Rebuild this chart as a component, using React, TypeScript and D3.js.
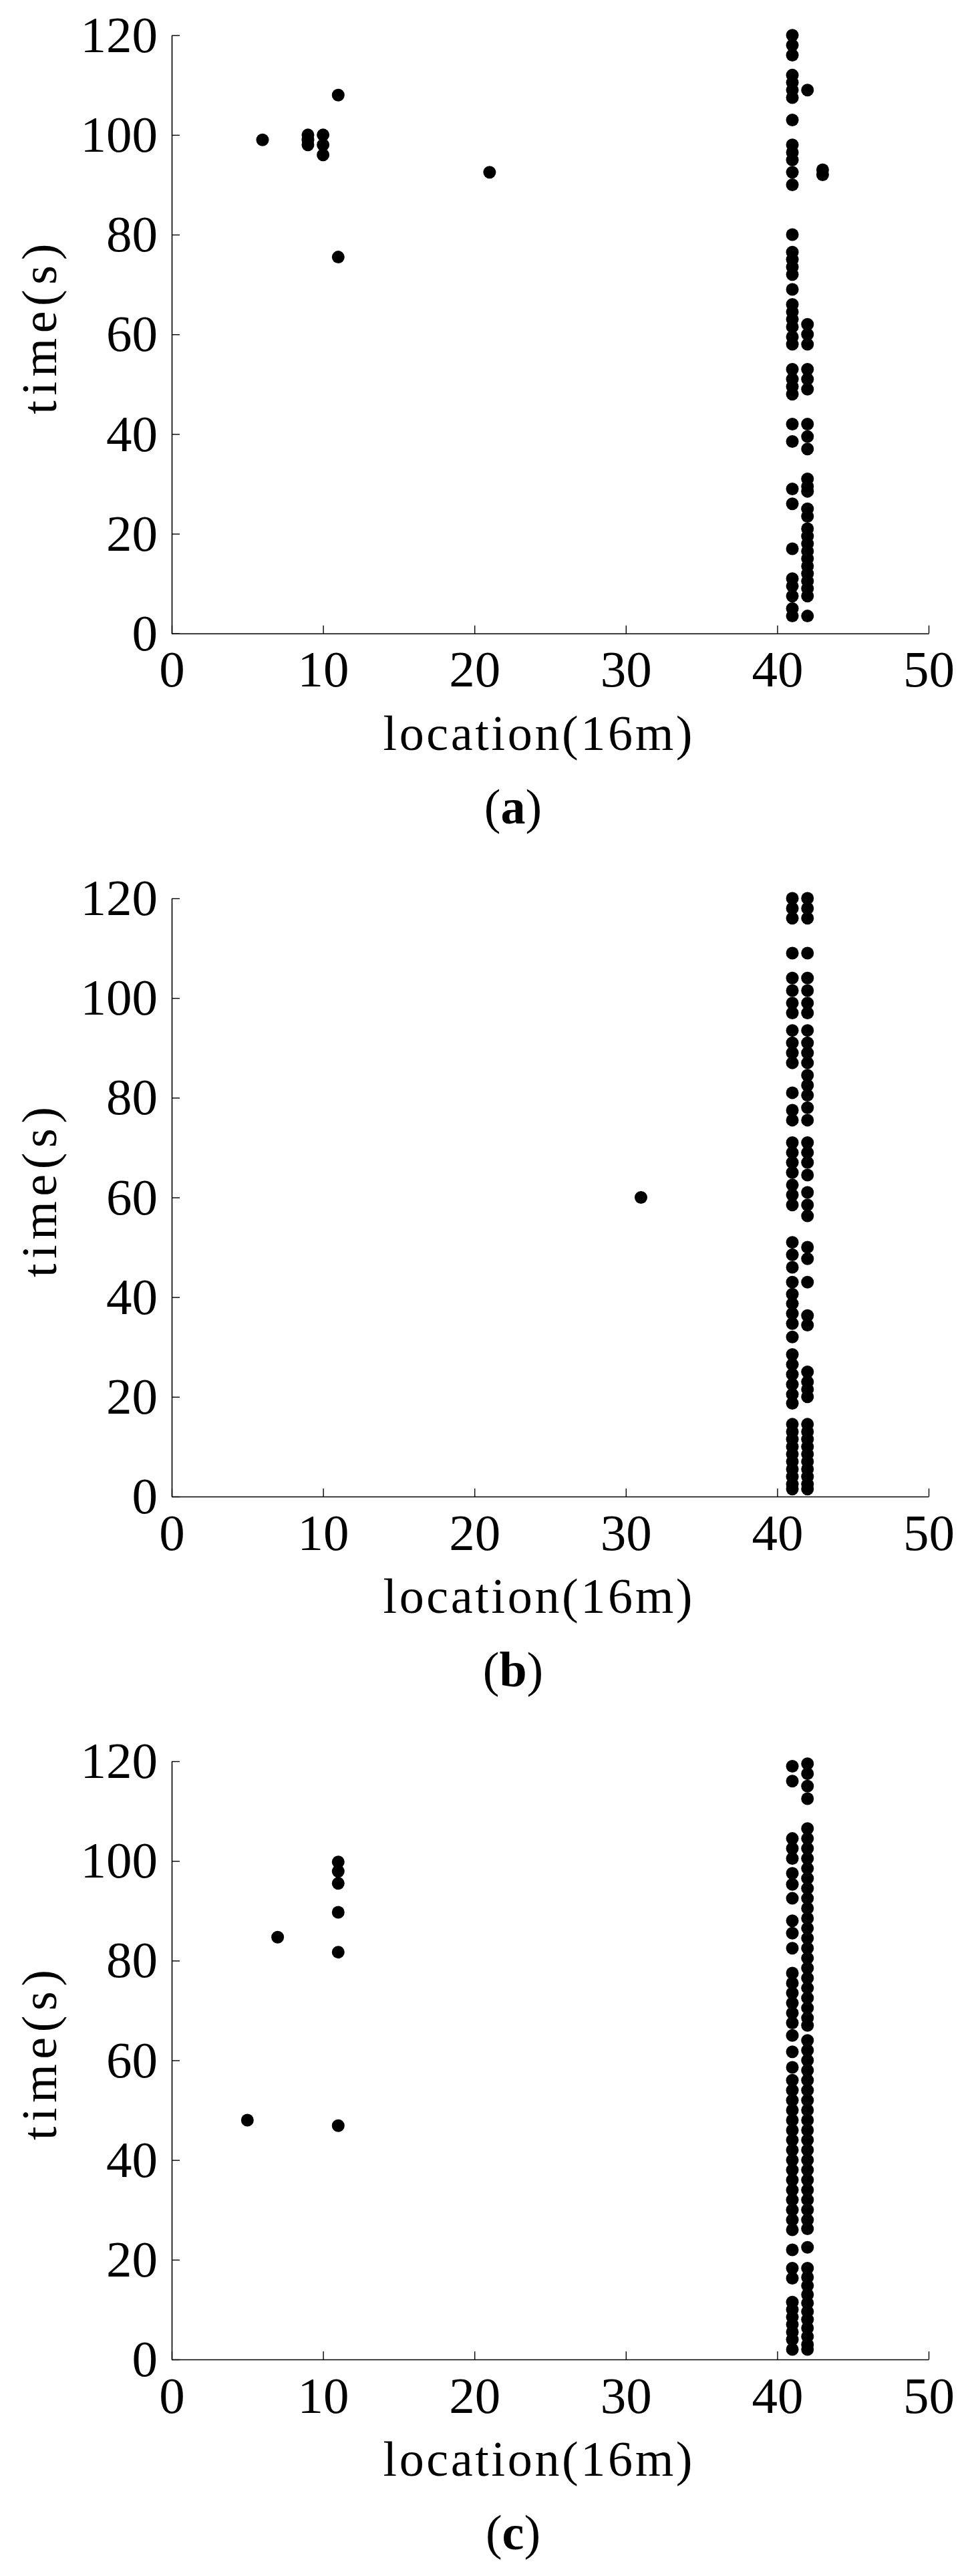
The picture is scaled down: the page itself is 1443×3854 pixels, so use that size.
import React, { useEffect, useRef } from 'react';
import * as d3 from 'd3';

// ---- tick labels / axis text ----
const xTicks = [0, 10, 20, 30, 40, 50];
const yTicks = [0, 20, 40, 60, 80, 100, 120];
const xLabel = 'location(16m)';
const yLabel = 'time(s)';
const panelLetters = ['a', 'b', 'c'];

// ---- panel (a) ----
const aOutliers: [number, number][] = [
  [6, 99], [9, 100], [9, 99], [9, 98], [10, 100], [10, 98], [10, 96],
  [11, 108], [11, 75.5], [21, 92.5], [43, 93], [43, 92],
];
const aCol41 = [120, 118, 116, 112, 110.5, 109, 107.5, 103, 98, 96.5, 95, 92.5, 90, 80, 76.5, 75, 73.5, 72, 69, 66, 64.5, 63, 61.5, 59.5, 58, 53, 51, 49.5, 48, 42, 38.5, 29, 26, 17, 11, 9.5, 7.5, 5, 3.5];
const aCol42 = [109, 62, 60, 58, 53, 51, 49, 42, 39.5, 37, 31, 29.5, 28.5, 25, 23.5, 21, 19.5, 18, 16.5, 15, 13.5, 12, 10.5, 9, 7.5, 3.5];

// ---- panel (b) ----
const bOutliers: [number, number][] = [[31, 60]];
const bCol41 = [120, 118, 116, 109, 104, 101.5, 99, 97, 93.5, 91, 89, 87, 81, 77.5, 75.5, 71, 69, 67, 65, 62.5, 60.5, 58.5, 51, 48.5, 46, 43, 40.6, 38.7, 36.7, 34.7, 32, 28.5, 26.5, 24.5, 22.5, 20.5, 18.7, 14.5, 13, 11.5, 10, 8.5, 7, 5.5, 4, 2.5, 1.5];
const bCol42 = [120, 118, 116, 109, 104, 101.5, 99, 97, 93.5, 91, 89, 87, 84.5, 82.5, 80.5, 78, 75.5, 71, 69, 67, 64.5, 61, 58.5, 56.3, 50, 47.7, 43, 36.3, 34.4, 25, 23, 21.5, 20, 14.5, 13, 11.5, 10, 8.5, 7, 5.5, 4, 2.5, 1.5];

// ---- panel (c) ----
const cOutliers: [number, number][] = [
  [5, 48], [7, 84.7], [11, 99.8], [11, 97.9], [11, 95.5], [11, 89.7], [11, 81.7], [11, 46.9],
];
const cCol41 = [119, 116, 104.5, 102.5, 100.5, 97.5, 95.3, 92.5, 88, 85.5, 82.5, 77.5, 75.5, 73.5, 71.5, 69.5, 67.5, 65, 61.7, 58.6, 56, 54, 52, 50, 48, 46, 44, 42, 40, 38, 36, 34, 32, 30, 28, 26, 22, 18.3, 16.3, 11.5, 10, 8.5, 7, 5.5, 4, 2];
const cCol42 = [119.5, 117.5, 115, 112.5, 106.5, 104.5, 102.5, 100.5, 98.5, 96.5, 94.5, 92.5, 90.5, 88.5, 86.5, 84.5, 82.5, 80.5, 78.5, 76.5, 74.5, 72.5, 70.5, 68.5, 67, 64, 62, 60, 58, 56, 54, 52, 50, 48, 46, 44, 42, 40, 38, 36, 34, 32, 30, 28, 26.2, 22.5, 18.3, 16.5, 14.8, 13, 11.3, 9.6, 8, 6.3, 4.6, 3, 2];

function buildPoints(outliers: [number, number][], col41: number[], col42: number[]): [number, number][] {
  return [
    ...outliers,
    ...col41.map((v) => [41, v] as [number, number]),
    ...col42.map((v) => [42, v] as [number, number]),
  ];
}

const W = 1443;
const H = 3854;
const LEFT = 257;
const RIGHT = 1390;
const PH = 895;
const TOPS = [52.7, 1344, 2635];
const SERIF = '"Liberation Serif", "Times New Roman", serif';

export default function App() {
  const ref = useRef<SVGSVGElement>(null);

  useEffect(() => {
    const svg = d3.select(ref.current);
    svg.selectAll('*').remove();

    const panelPoints = [
      buildPoints(aOutliers, aCol41, aCol42),
      buildPoints(bOutliers, bCol41, bCol42),
      buildPoints(cOutliers, cCol41, cCol42),
    ];

    panelPoints.forEach((pts, i) => {
      const top = TOPS[i];
      const x = d3.scaleLinear().domain([0, 50]).range([LEFT, RIGHT]);
      const y = d3.scaleLinear().domain([0, 120]).range([top + PH, top]);
      const g = svg.append('g');

      g.append('g')
        .selectAll('circle')
        .data(pts)
        .join('circle')
        .attr('cx', (d) => x(d[0]))
        .attr('cy', (d) => y(d[1]))
        .attr('r', 9.5)
        .attr('fill', '#000');

      const xa = g
        .append('g')
        .attr('transform', `translate(0,${y(0)})`)
        .call(
          d3.axisBottom(x).tickValues(xTicks).tickSizeInner(-12).tickSizeOuter(0).tickPadding(25).tickFormat(d3.format('d'))
        );
      const ya = g
        .append('g')
        .attr('transform', `translate(${x(0)},0)`)
        .call(
          d3.axisLeft(y).tickValues(yTicks).tickSizeInner(-12).tickSizeOuter(0).tickPadding(21).tickFormat(d3.format('d'))
        );
      [xa, ya].forEach((a) => {
        a.attr('font-family', SERIF).attr('font-size', 77);
        a.selectAll('path').attr('stroke', '#000').attr('stroke-width', 1.6);
        a.selectAll('line').attr('stroke', '#000').attr('stroke-width', 1.4);
        a.selectAll('text').attr('fill', '#000');
      });

      const axisY = y(0);
      g.append('text')
        .attr('x', 805)
        .attr('y', axisY + 174)
        .attr('text-anchor', 'middle')
        .attr('font-family', SERIF)
        .attr('font-size', 74)
        .attr('textLength', 463)
        .attr('lengthAdjust', 'spacing')
        .attr('fill', '#000')
        .text(xLabel);

      const cy = top + PH / 2 - 8;
      g.append('text')
        .attr('transform', `translate(84,${cy}) rotate(-90)`)
        .attr('text-anchor', 'middle')
        .attr('font-family', SERIF)
        .attr('font-size', 74)
        .attr('textLength', 255)
        .attr('lengthAdjust', 'spacing')
        .attr('fill', '#000')
        .text(yLabel);

      const lt = g
        .append('text')
        .attr('x', 768)
        .attr('y', axisY + 284)
        .attr('text-anchor', 'middle')
        .attr('font-family', SERIF)
        .attr('font-size', 74)
        .attr('fill', '#000');
      lt.append('tspan').text('(');
      lt.append('tspan').attr('font-weight', 'bold').text(panelLetters[i]);
      lt.append('tspan').text(')');
    });
  }, []);

  return (
    <div style={{ position: 'absolute', left: 0, top: 0 }}>
      <svg ref={ref} width={W} height={H} style={{ display: 'block', background: '#fff' }} />
    </div>
  );
}
